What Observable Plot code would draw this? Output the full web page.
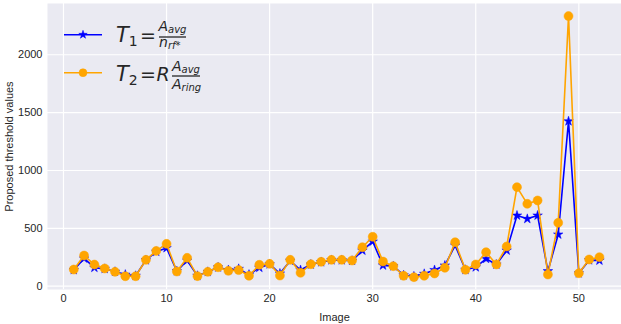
<!DOCTYPE html>
<html>
<head>
<meta charset="utf-8">
<script src="https://cdn.jsdelivr.net/npm/d3@7"></script>
<script src="https://cdn.jsdelivr.net/npm/@observablehq/plot@0.6"></script>
<style>
  html, body { margin: 0; padding: 0; background: #ffffff; }
  #chart { width: 621px; height: 324px; overflow: hidden; }
</style>
</head>
<body>
<div id="chart"></div>
<script>
const images = [1,2,3,4,5,6,7,8,9,10,11,12,13,14,15,16,17,18,19,20,21,22,23,24,25,26,27,28,29,30,31,32,33,34,35,36,37,38,39,40,41,42,43,44,45,46,47,48,49,50,51,52];
const t1Values = [140,240,160,150,125,100,90,225,298,330,130,222,90,124,163,140,150,100,160,190,110,220,140,188,208,225,225,220,308,386,180,173,95,85,107,140,179,352,142,164,237,188,309,611,582,611,130,447,1426,112,225,222];
const t2Values = [144,265,187,153,124,86,86,228,305,366,127,245,87,124,164,133,139,90,185,193,92,228,116,190,211,228,228,222,337,427,213,173,90,78,90,110,159,380,142,188,294,188,343,856,712,741,101,548,2334,112,231,251];
const xTicks = [0,10,20,30,40,50];
const yTicks = [0,500,1000,1500,2000];

const t1 = images.map((x, i) => ({x, y: t1Values[i]}));
const t2 = images.map((x, i) => ({x, y: t2Values[i]}));

const textColor = "#262626";

const chart = Plot.plot({
  width: 621,
  height: 324,
  marginLeft: 47,
  marginRight: 0,
  marginTop: 3,
  marginBottom: 35,
  style: {fontFamily: "'Liberation Sans', Arial, sans-serif", fontSize: "11px", color: textColor, background: "#ffffff"},
  x: {domain: [-1.55, 54.14]},
  y: {domain: [-28.5, 2443]},
  marks: [
    Plot.frame({fill: "#EAEAF2", stroke: null}),
    Plot.gridX(xTicks, {stroke: "#ffffff", strokeOpacity: 1, strokeWidth: 1.2}),
    Plot.gridY(yTicks, {stroke: "#ffffff", strokeOpacity: 1, strokeWidth: 1.2}),
    Plot.axisX({ticks: xTicks, tickSize: 0, tickPadding: 5, tickFormat: d => String(d), label: "Image", labelAnchor: "center", labelArrow: "none", labelOffset: 31, fontSize: 11, fill: textColor}),
    Plot.axisY({ticks: yTicks, tickSize: 0, tickPadding: 5, tickFormat: d => String(d), label: "Proposed threshold values", labelAnchor: "center", labelOffset: 42, labelArrow: "none", fontSize: 11, fill: textColor}),
    Plot.line(t1, {x: "x", y: "y", stroke: "#0000FF", strokeWidth: 1.6}),
    Plot.dot(t1, {x: "x", y: "y", symbol: "star", r: 3, fill: "#0000FF", stroke: "#0000FF", strokeWidth: 0.5}),
    Plot.line(t2, {x: "x", y: "y", stroke: "#FFA500", strokeWidth: 1.6}),
    Plot.dot(t2, {x: "x", y: "y", symbol: "circle", r: 4.5, fill: "#FFA500", stroke: "#FFA500", strokeWidth: 0.5})
  ]
});

document.getElementById("chart").appendChild(chart);

// Legend (matplotlib-style, inside plot area)
const svg = d3.select(chart);
const lg = svg.append("g")
  .attr("font-family", "'DejaVu Sans', sans-serif")
  .attr("text-anchor", "start")
  .attr("fill", textColor);

function entry(y, color, symbolType) {
  lg.append("line").attr("x1", 64).attr("x2", 102).attr("y1", y).attr("y2", y)
    .attr("stroke", color).attr("stroke-width", 1.6);
  lg.append("path").attr("d", d3.symbol(symbolType === "star" ? d3.symbolStar : d3.symbolCircle, symbolType === "star" ? 22 : 50)())
    .attr("transform", `translate(83,${y})`).attr("fill", color).attr("stroke", color).attr("stroke-width", 0.5);
}
function txt(x, y, s, size, italic) {
  return lg.append("text").attr("x", x).attr("y", y).attr("font-size", size)
    .attr("font-style", italic ? "italic" : "normal").attr("text-anchor", "start").text(s);
}
function sub(x, y, main, mainSize, subText, subSize, dy) {
  const t = lg.append("text").attr("x", x).attr("y", y).attr("font-style", "italic").attr("text-anchor", "start");
  t.append("tspan").attr("font-size", mainSize).text(main);
  t.append("tspan").attr("font-size", subSize).attr("dy", dy).text(subText);
  return t;
}
function bar(x1, x2, y) {
  lg.append("line").attr("x1", x1).attr("x2", x2).attr("y1", y).attr("y2", y)
    .attr("stroke", textColor).attr("stroke-width", 1.3);
}
function lhs(y, digit) {
  const t = lg.append("text").attr("x", 116).attr("y", y).attr("text-anchor", "start");
  t.append("tspan").attr("font-size", 21).attr("font-style", "italic").text("T");
  t.append("tspan").attr("font-size", 14).attr("dy", 3.5).text(digit);
  txt(140, y, "=", 19, false);
}

entry(34.7, "#0000FF", "star");
lhs(42, "1");
sub(158.5, 30.5, "A", 14, "avg", 10, 2);
bar(159, 186, 37);
sub(159, 47, "n", 14, "rf*", 10, 2);

entry(72.7, "#FFA500", "circle");
lhs(81, "2");
txt(156.5, 81, "R", 19, true);
sub(172, 70.5, "A", 14, "avg", 10, 2);
bar(172, 200, 76);
sub(172, 89, "A", 14, "ring", 10, 2);
</script>
</body>
</html>
